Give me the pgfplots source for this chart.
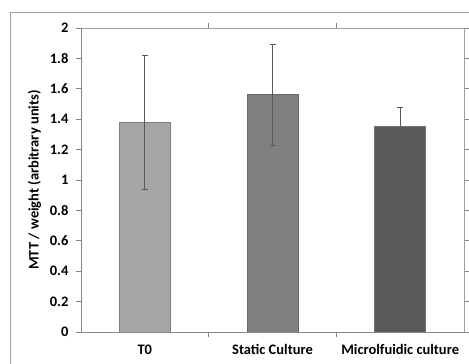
\documentclass[border=0pt]{standalone}
\usepackage{pgfplots}
\pgfplotsset{compat=1.18}
\usepackage{fontspec}
\setmainfont{Carlito}
\usetikzlibrary{calc}
\definecolor{barA}{HTML}{A6A6A6}
\definecolor{barB}{HTML}{808080}
\definecolor{barC}{HTML}{595959}
\definecolor{edgeA}{HTML}{7F7F7F}
\definecolor{axisgray}{HTML}{868686}
\definecolor{framegray}{HTML}{A0A0A0}
\begin{document}
\begin{tikzpicture}[x=1pt,y=1pt]
\begin{axis}[
  name=ax,
  scale only axis,
  width=383pt, height=304pt,
  xmin=-0.5, xmax=2.5,
  ymin=0, ymax=2,
  ytick={0,0.2,...,2.01},
  yticklabel style={/pgf/number format/fixed,/pgf/number format/precision=1, xshift=-4pt},
  xticklabel style={yshift=-4pt},
  /pgf/number format/assume math mode=true,
  xtick={0,1,2},
  xticklabels={T0,Static Culture,Microlfuidic culture},
  extra x ticks={0.5,1.5},
  extra x tick labels={},
  extra x tick style={xtick style={draw=axisgray, line width=0.8pt}},
  major tick length=5pt,
  tick align=outside,
  xtick style={draw=none},
  ytick style={draw=axisgray, line width=0.8pt},
  axis line style={draw=framegray},
  ticklabel style={font=\fontsize{14.5}{16}\selectfont\bfseries, text=black},
  ylabel={MTT / weight (arbitrary units)},
  ylabel style={font=\fontsize{14.5}{16}\selectfont\bfseries, yshift=2pt},
  ybar, bar width=51pt, bar shift=0pt,
  clip=false,
  error bars/error bar style={draw=black!65, line width=0.7pt},
  error bars/error mark options={rotate=90, mark size=3pt, draw=black!65, line width=0.7pt},
]
\addplot[fill=barA, draw=edgeA, line width=1pt,
  error bars/.cd, y dir=both, y explicit]
  coordinates {(0,1.38) +- (0,0.44)};
\addplot[fill=barB, draw=black!60, line width=1pt,
  error bars/.cd, y dir=both, y explicit]
  coordinates {(1,1.56) +- (0,0.33)};
\addplot[fill=barC, draw=black!55, line width=1pt,
  error bars/.cd, y dir=both, y explicit]
  coordinates {(2,1.35) +- (0,0.125)};
\draw[axisgray, line width=0.8pt] (rel axis cs:0,1) -- (rel axis cs:0,0) -- (rel axis cs:1,0);
\end{axis}
\draw[framegray, line width=0.8pt] ($(ax.south west)+(-71pt,-40pt)$) -- ($(ax.north west)+(-71pt,16pt)$) -- ($(ax.north east)+(10pt,16pt)$);
\pgfresetboundingbox
\path[use as bounding box] ($(ax.south west)+(-81pt,-31pt)$) rectangle ($(ax.north east)+(5pt,28pt)$);
\end{tikzpicture}
\end{document}
